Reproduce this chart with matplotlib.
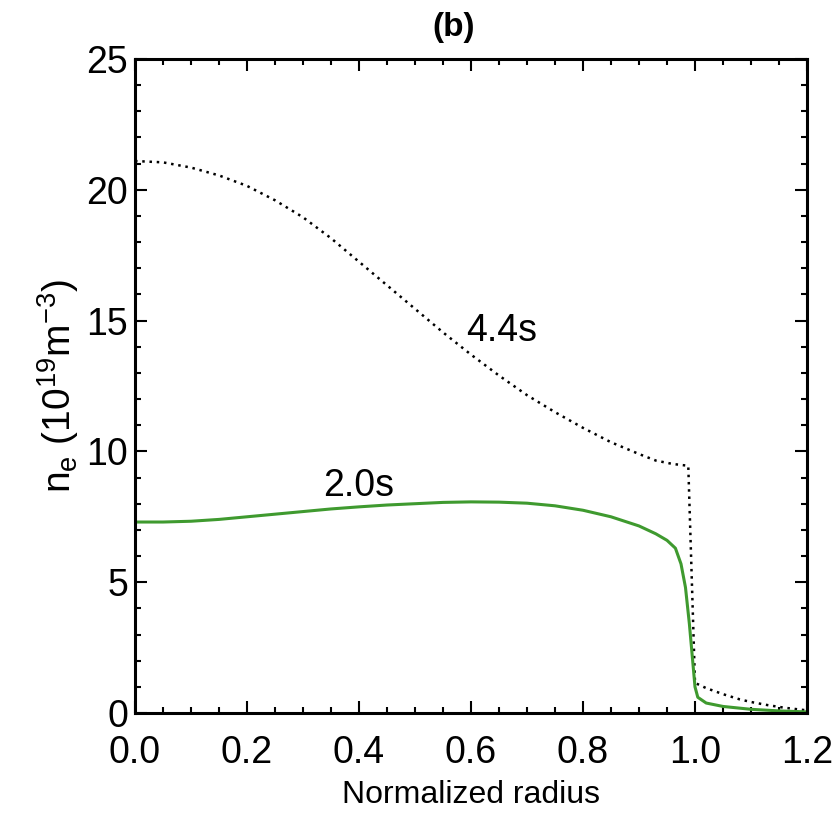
import matplotlib
matplotlib.use("Agg")
import matplotlib.pyplot as plt
from matplotlib.ticker import MultipleLocator

plt.rcParams['font.family'] = ['Liberation Sans', 'DejaVu Sans']
plt.rcParams['mathtext.fontset'] = 'custom'
plt.rcParams['mathtext.rm'] = 'Liberation Sans'
plt.rcParams['mathtext.it'] = 'Liberation Sans'
plt.rcParams['mathtext.default'] = 'regular'

# Electron density profile at 4.4 s (dotted)
radius_44 = [0.00, 0.05, 0.10, 0.15, 0.20, 0.25, 0.30, 0.35, 0.40, 0.45,
             0.50, 0.55, 0.60, 0.65, 0.70, 0.75, 0.80, 0.85, 0.90, 0.93,
             0.96, 0.988, 1.00, 1.02, 1.05, 1.08, 1.10, 1.13, 1.16, 1.20]
ne_44 = [21.10, 21.05, 20.85, 20.55, 20.15, 19.60, 18.95, 18.15, 17.25, 16.35,
         15.45, 14.55, 13.70, 12.90, 12.15, 11.50, 10.90, 10.35, 9.90, 9.65,
         9.52, 9.45, 1.15, 0.95, 0.72, 0.52, 0.42, 0.30, 0.20, 0.10]

# Electron density profile at 2.0 s (green)
radius_20 = [0.00, 0.05, 0.10, 0.15, 0.20, 0.25, 0.30, 0.35, 0.40, 0.45,
             0.50, 0.55, 0.60, 0.65, 0.70, 0.75, 0.80, 0.85, 0.90, 0.93,
             0.95, 0.965, 0.975, 0.983, 0.99, 0.995, 1.00, 1.005, 1.02, 1.05,
             1.10, 1.15, 1.20]
ne_20 = [7.30, 7.30, 7.33, 7.40, 7.50, 7.60, 7.70, 7.80, 7.88, 7.95,
         8.00, 8.05, 8.07, 8.06, 8.02, 7.92, 7.75, 7.50, 7.15, 6.85,
         6.60, 6.30, 5.70, 4.80, 3.40, 2.20, 1.00, 0.60, 0.38, 0.25,
         0.14, 0.08, 0.04]

x_ticks = [0.0, 0.2, 0.4, 0.6, 0.8, 1.0, 1.2]
x_tick_labels = ["0.0", "0.2", "0.4", "0.6", "0.8", "1.0", "1.2"]
y_ticks = [0, 5, 10, 15, 20, 25]

fig = plt.figure(figsize=(8.38, 8.14), dpi=100)
ax = fig.add_axes([0.1611, 0.1241, 0.8019, 0.8034])

ax.plot(radius_44, ne_44, color='black', lw=1.8, linestyle=(0, (1, 1.9)))
ax.plot(radius_20, ne_20, color='#3f9a2f', lw=2.2)

ax.set_xlim(0, 1.2)
ax.set_ylim(0, 25)
ax.set_xticks(x_ticks)
ax.set_xticklabels(x_tick_labels)
ax.set_yticks(y_ticks)
ax.xaxis.set_minor_locator(MultipleLocator(0.05))
ax.yaxis.set_minor_locator(MultipleLocator(1))

ax.tick_params(which='both', direction='in', top=True, right=True,
               width=1.5, labelsize=27, colors='black')
ax.tick_params(which='major', length=8.5)
ax.tick_params(which='minor', length=4.3)
ax.tick_params(axis='x', which='major', pad=15.5)
ax.tick_params(axis='y', which='major', pad=5)
for sp in ax.spines.values():
    sp.set_linewidth(2.2)

ax.set_xlabel("Normalized radius", fontsize=23, labelpad=7)
ax.set_ylabel(r"n$_{e}$ (10$^{19}$m$^{-3}$)", fontsize=28, labelpad=4)
fig.text(0.5418, 0.9668, "(b)", fontsize=24, fontweight='bold',
         ha='center', va='center')

ax.text(0.654, 14.6, "4.4s", fontsize=27, ha='center', va='center')
ax.text(0.40, 8.68, "2.0s", fontsize=27, ha='center', va='center')

fig.savefig("out.png", dpi=100)
